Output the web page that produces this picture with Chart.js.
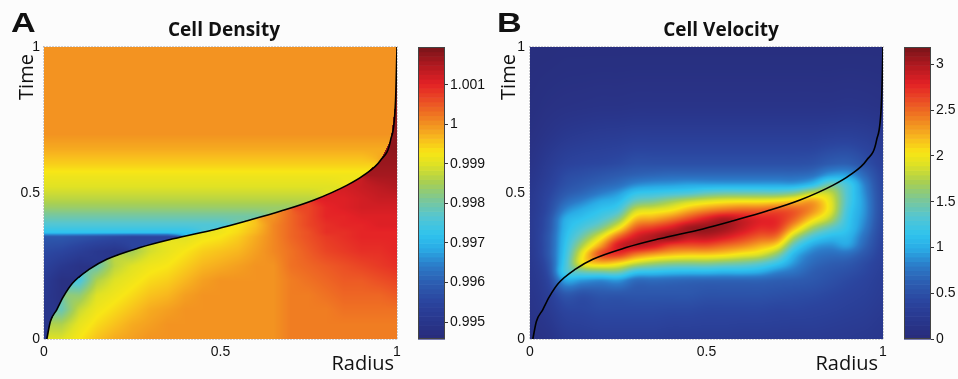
<!DOCTYPE html>
<html>
<head>
<meta charset="utf-8">
<script src="https://cdn.jsdelivr.net/npm/chart.js@4.4.1/dist/chart.umd.min.js"></script>
<style>
  body { margin: 0; background: #fcfcfc; }
  #fig { position: relative; width: 958px; height: 379px; overflow: hidden; }
  canvas { position: absolute; top: 0; }
  .lbl { position: absolute; color: #111; white-space: nowrap; }
  .panel { font: bold 28px "Liberation Sans", Arial, sans-serif; line-height: 28px; transform: scaleX(1.22); transform-origin: left top; }
  .title { font: bold 19px "Open Sans", sans-serif; line-height: 19px; width: 240px; text-align: center; }
  .axt { font: 20px "Open Sans", sans-serif; line-height: 20px; }
  .rot { width: 60px; height: 20px; text-align: center; transform: rotate(-90deg); }
  .rad { width: 80px; text-align: right; }
</style>
</head>
<body>
<div id="fig">
  <canvas id="mapA" width="410" height="379" style="left:0"></canvas>
  <canvas id="barA" width="80" height="379" style="left:410px"></canvas>
  <canvas id="mapB" width="410" height="379" style="left:486px"></canvas>
  <canvas id="barB" width="62" height="379" style="left:896px"></canvas>

  <div class="lbl panel" style="left:11px;top:9px">A</div>
  <div class="lbl title" style="left:104px;top:20px">Cell Density</div>
  <div class="lbl axt rot" style="left:-4px;top:67px">Time</div>
  <div class="lbl axt rad" style="left:314px;top:353px">Radius</div>

  <div class="lbl panel" style="left:497px;top:9px">B</div>
  <div class="lbl title" style="left:601px;top:20px">Cell Velocity</div>
  <div class="lbl axt rot" style="left:478px;top:67px">Time</div>
  <div class="lbl axt rad" style="left:798px;top:353px">Radius</div>
</div>
<script>
// grid nodes (radius columns shared by both maps)
const RADIUS_NODES = [0, 0.05, 0.1, 0.15, 0.2, 0.25, 0.3, 0.35, 0.4, 0.45, 0.5,
                      0.55, 0.6, 0.65, 0.7, 0.75, 0.8, 0.85, 0.9, 0.95, 1];

// cell density, rows bottom (time 0) to top (time 1)
const DENSITY_TIME_NODES = [0, 0.05, 0.1, 0.15, 0.2, 0.25, 0.3, 0.35, 0.365, 0.39, 0.42,
                            0.45, 0.48, 0.52, 0.56, 0.6, 0.65, 0.7, 0.8, 0.9, 1];
const DENSITY = [
  [0.9951,0.9990,0.9993,0.9996,0.9998,0.9999,1.0000,1.0000,1.0000,1.0000,1.0000,1.0000,1.0000,1.0000,1.0002,1.0002,1.0002,1.0002,1.0002,1.0002,1.0002],
  [0.9950,0.9986,0.9991,0.9994,0.9996,0.9998,0.9999,1.0000,1.0000,1.0000,1.0000,1.0000,1.0000,1.0000,1.0002,1.0002,1.0002,1.0002,1.0002,1.0002,1.0002],
  [0.9950,0.9979,0.9988,0.9992,0.9994,0.9996,0.9998,0.9999,1.0000,1.0000,1.0000,1.0000,1.0000,1.0000,1.0002,1.0002,1.0002,1.0003,1.0003,1.0003,1.0003],
  [0.9951,0.9948,0.9983,0.9990,0.9992,0.9994,0.9996,0.9997,0.9999,1.0000,1.0000,1.0000,1.0000,1.0000,1.0002,1.0002,1.0003,1.0004,1.0004,1.0004,1.0005],
  [0.9952,0.9948,0.9975,0.9986,0.9990,0.9992,0.9994,0.9995,0.9997,0.9999,1.0000,1.0000,1.0000,1.0000,1.0002,1.0003,1.0004,1.0005,1.0005,1.0006,1.0007],
  [0.9954,0.9951,0.9949,0.9979,0.9987,0.9990,0.9992,0.9993,0.9995,0.9997,0.9998,0.9999,1.0000,1.0000,1.0003,1.0004,1.0005,1.0006,1.0007,1.0008,1.0009],
  [0.9956,0.9955,0.9953,0.9951,0.9950,0.9985,0.9989,0.9991,0.9993,0.9995,0.9996,0.9997,0.9999,1.0001,1.0003,1.0005,1.0007,1.0008,1.0009,1.0009,1.0010],
  [0.9959,0.9959,0.9958,0.9957,0.9956,0.9955,0.9955,0.9955,0.9990,0.9992,0.9993,0.9995,0.9998,1.0001,1.0004,1.0006,1.0008,1.0009,1.0010,1.0010,1.0010],
  [0.9972,0.9972,0.9972,0.9972,0.9972,0.9972,0.9972,0.9972,0.9972,0.9991,0.9992,0.9994,0.9997,1.0001,1.0004,1.0006,1.0009,1.0009,1.0010,1.0010,1.0010],
  [0.9976,0.9976,0.9976,0.9976,0.9976,0.9976,0.9976,0.9976,0.9976,0.9976,0.9976,0.9993,0.9996,1.0001,1.0004,1.0007,1.0009,1.0010,1.0010,1.0011,1.0011],
  [0.9980,0.9980,0.9980,0.9980,0.9980,0.9980,0.9980,0.9980,0.9980,0.9980,0.9980,0.9980,0.9980,1.0000,1.0004,1.0007,1.0010,1.0010,1.0011,1.0011,1.0011],
  [0.9984,0.9984,0.9984,0.9984,0.9984,0.9984,0.9984,0.9984,0.9984,0.9984,0.9984,0.9984,0.9984,0.9984,0.9984,1.0007,1.0010,1.0011,1.0012,1.0012,1.0012],
  [0.9987,0.9987,0.9987,0.9987,0.9987,0.9987,0.9987,0.9987,0.9987,0.9987,0.9987,0.9987,0.9987,0.9987,0.9987,0.9987,1.0011,1.0011,1.0012,1.0013,1.0013],
  [0.9990,0.9990,0.9990,0.9990,0.9990,0.9990,0.9990,0.9990,0.9990,0.9990,0.9990,0.9990,0.9990,0.9990,0.9990,0.9990,0.9990,1.0012,1.0013,1.0014,1.0015],
  [0.9992,0.9992,0.9992,0.9992,0.9992,0.9992,0.9992,0.9992,0.9992,0.9992,0.9992,0.9992,0.9992,0.9992,0.9992,0.9992,0.9992,0.9992,0.9992,1.0016,1.0016],
  [0.9995,0.9995,0.9995,0.9995,0.9995,0.9995,0.9995,0.9995,0.9995,0.9995,0.9995,0.9995,0.9995,0.9995,0.9995,0.9995,0.9995,0.9995,0.9995,1.0017,1.0017],
  [0.9998,0.9998,0.9998,0.9998,0.9998,0.9998,0.9998,0.9998,0.9998,0.9998,0.9998,0.9998,0.9998,0.9998,0.9998,0.9998,0.9998,0.9998,0.9998,0.9998,1.0018],
  [1.0000,1.0000,1.0000,1.0000,1.0000,1.0000,1.0000,1.0000,1.0000,1.0000,1.0000,1.0000,1.0000,1.0000,1.0000,1.0000,1.0000,1.0000,1.0000,1.0000,1.0018],
  [1.0000,1.0000,1.0000,1.0000,1.0000,1.0000,1.0000,1.0000,1.0000,1.0000,1.0000,1.0000,1.0000,1.0000,1.0000,1.0000,1.0000,1.0000,1.0000,1.0000,1.0018],
  [1.0000,1.0000,1.0000,1.0000,1.0000,1.0000,1.0000,1.0000,1.0000,1.0000,1.0000,1.0000,1.0000,1.0000,1.0000,1.0000,1.0000,1.0000,1.0000,1.0000,1.0018],
  [1.0000,1.0000,1.0000,1.0000,1.0000,1.0000,1.0000,1.0000,1.0000,1.0000,1.0000,1.0000,1.0000,1.0000,1.0000,1.0000,1.0000,1.0000,1.0000,1.0000,1.0000]
];

// cell velocity, rows bottom to top
const VELOCITY_TIME_NODES = [0, 0.05, 0.1, 0.15, 0.2, 0.23, 0.26, 0.29, 0.32, 0.35, 0.38,
                             0.41, 0.44, 0.47, 0.5, 0.53, 0.56, 0.6, 0.7, 0.8, 1];
const VELOCITY = [
  [0.12,0.15,0.25,0.28,0.30,0.30,0.30,0.30,0.28,0.28,0.28,0.28,0.27,0.27,0.26,0.26,0.26,0.25,0.24,0.22,0.20],
  [0.14,0.20,0.32,0.35,0.38,0.38,0.38,0.38,0.36,0.36,0.35,0.35,0.34,0.34,0.33,0.32,0.32,0.30,0.28,0.26,0.22],
  [0.16,0.25,0.40,0.42,0.45,0.45,0.45,0.45,0.44,0.44,0.42,0.42,0.42,0.42,0.40,0.40,0.38,0.36,0.33,0.30,0.25],
  [0.18,0.30,0.55,0.50,0.55,0.55,0.55,0.55,0.55,0.55,0.52,0.52,0.52,0.52,0.50,0.48,0.46,0.42,0.38,0.34,0.28],
  [0.20,0.38,0.95,0.90,0.85,0.90,0.70,0.70,0.68,0.66,0.65,0.65,0.65,0.65,0.62,0.60,0.56,0.50,0.44,0.38,0.30],
  [0.21,0.45,1.25,1.45,1.50,1.50,1.20,1.15,1.10,1.08,1.08,1.05,1.05,1.00,0.85,0.75,0.62,0.55,0.50,0.42,0.32],
  [0.22,0.50,1.25,2.00,2.20,2.10,1.85,1.70,1.62,1.60,1.60,1.55,1.50,1.40,1.20,0.90,0.70,0.62,0.58,0.46,0.34],
  [0.23,0.55,1.20,2.00,2.60,2.70,2.45,2.30,2.20,2.15,2.15,2.10,2.00,1.90,1.60,1.05,0.80,0.72,0.72,0.55,0.36],
  [0.24,0.55,1.15,1.75,2.30,2.85,2.95,2.85,2.65,2.60,2.60,2.50,2.40,2.25,2.05,1.35,0.98,0.88,0.95,0.65,0.38],
  [0.25,0.55,1.10,1.50,1.95,2.50,2.85,3.00,3.10,2.95,2.95,2.85,2.70,2.55,2.45,1.75,1.30,1.10,1.05,0.72,0.40],
  [0.25,0.52,1.05,1.30,1.55,2.00,2.55,2.70,2.85,3.05,3.10,3.05,2.90,2.75,2.70,2.20,1.70,1.40,1.15,0.80,0.42],
  [0.25,0.50,1.00,1.15,1.30,1.60,2.20,2.30,2.45,2.65,2.85,3.00,2.90,2.80,2.75,2.50,2.10,1.75,1.20,0.85,0.44],
  [0.24,0.45,0.85,1.02,1.15,1.30,1.85,1.95,2.05,2.25,2.40,2.50,2.55,2.55,2.60,2.55,2.35,1.95,1.25,0.88,0.45],
  [0.23,0.42,0.70,0.85,1.00,1.10,1.45,1.55,1.70,1.85,1.95,2.02,2.05,2.05,2.10,2.20,2.30,1.95,1.30,0.88,0.45],
  [0.22,0.38,0.58,0.68,0.80,0.92,1.15,1.20,1.25,1.30,1.40,1.45,1.45,1.45,1.45,1.55,1.80,1.80,1.30,0.85,0.44],
  [0.20,0.34,0.50,0.58,0.65,0.72,0.85,0.90,0.92,0.95,0.95,0.95,0.95,0.95,0.95,0.95,1.10,1.45,1.25,0.80,0.42],
  [0.18,0.30,0.45,0.50,0.55,0.60,0.65,0.68,0.70,0.70,0.70,0.70,0.70,0.70,0.70,0.70,0.75,0.95,0.95,0.68,0.40],
  [0.15,0.26,0.36,0.40,0.42,0.45,0.50,0.50,0.50,0.50,0.50,0.50,0.50,0.50,0.50,0.50,0.52,0.60,0.62,0.50,0.35],
  [0.10,0.16,0.22,0.25,0.27,0.28,0.30,0.30,0.30,0.30,0.30,0.30,0.30,0.30,0.30,0.30,0.30,0.32,0.33,0.30,0.25],
  [0.07,0.10,0.12,0.13,0.14,0.14,0.15,0.15,0.15,0.15,0.15,0.15,0.15,0.15,0.15,0.15,0.15,0.15,0.16,0.15,0.13],
  [0.05,0.05,0.06,0.06,0.06,0.06,0.06,0.06,0.06,0.06,0.06,0.06,0.06,0.06,0.06,0.06,0.06,0.06,0.06,0.06,0.06]
];

// black front line (same in both panels)
const FRONT_R = [0.008, 0.018, 0.036, 0.055, 0.08, 0.13, 0.178, 0.272, 0.366, 0.49,
                 0.576, 0.671, 0.765, 0.859, 0.907, 0.954, 0.982, 0.996, 1];
const FRONT_T = [0, 0.06, 0.1, 0.145, 0.19, 0.24, 0.273, 0.313, 0.343, 0.377,
                 0.405, 0.438, 0.476, 0.527, 0.562, 0.613, 0.682, 0.818, 1];

const AXIS_TICKS = [0, 0.5, 1];
const AXIS_TICK_LABELS = ['0', '0.5', '1'];

const DENSITY_RANGE = [0.99457, 1.00196];
const DENSITY_TICKS = [0.995, 0.996, 0.997, 0.998, 0.999, 1, 1.001];
const DENSITY_TICK_LABELS = ['0.995', '0.996', '0.997', '0.998', '0.999', '1', '1.001'];

const VELOCITY_RANGE = [0, 3.19];
const VELOCITY_TICKS = [0, 0.5, 1, 1.5, 2, 2.5, 3];
const VELOCITY_TICK_LABELS = ['0', '0.5', '1', '1.5', '2', '2.5', '3'];

// jet-like colour map, as it looks in print
const JET_STOPS = [
  [0.00, 40, 44, 122], [0.06, 41, 54, 140], [0.125, 43, 68, 158], [0.19, 45, 92, 176],
  [0.25, 44, 122, 200], [0.31, 42, 172, 230], [0.36, 48, 196, 238], [0.42, 85, 198, 210],
  [0.48, 125, 200, 150], [0.54, 170, 208, 80], [0.60, 224, 226, 36], [0.64, 248, 230, 22],
  [0.69, 248, 186, 30], [0.74, 242, 143, 33], [0.81, 236, 84, 37], [0.875, 228, 33, 38],
  [0.94, 175, 25, 32], [1.00, 122, 21, 26]
];
const LEVELS = 64;

function jet(f) {
  f = Math.min(1, Math.max(0, f));
  for (let k = 1; k < JET_STOPS.length; k++) {
    const b = JET_STOPS[k];
    if (f <= b[0]) {
      const a = JET_STOPS[k - 1];
      const u = (f - a[0]) / (b[0] - a[0]);
      return [a[1] + (b[1] - a[1]) * u, a[2] + (b[2] - a[2]) * u, a[3] + (b[3] - a[3]) * u];
    }
  }
  return JET_STOPS[JET_STOPS.length - 1].slice(1);
}

function frontAt(r) {
  if (r <= FRONT_R[0]) return FRONT_T[0];
  for (let k = 1; k < FRONT_R.length; k++) {
    if (r <= FRONT_R[k]) {
      const u = (r - FRONT_R[k - 1]) / (FRONT_R[k] - FRONT_R[k - 1]);
      return FRONT_T[k - 1] + (FRONT_T[k] - FRONT_T[k - 1]) * u;
    }
  }
  return FRONT_T[FRONT_T.length - 1];
}

function cellIndex(nodes, v) {
  for (let k = 0; k < nodes.length - 2; k++) {
    if (v < nodes[k + 1]) return k;
  }
  return nodes.length - 2;
}

// Catmull-Rom weights for a smooth surface through the grid nodes
function crWeights(u) {
  const u2 = u * u, u3 = u2 * u;
  return [
    0.5 * (-u3 + 2 * u2 - u),
    0.5 * (3 * u3 - 5 * u2 + 2),
    0.5 * (-3 * u3 + 4 * u2 + u),
    0.5 * (u3 - u2),
  ];
}

function smoothValue(G, i, fr, j, ft) {
  const nr = G[0].length, nt = G.length;
  const wr = crWeights(fr), wt = crWeights(ft);
  let v = 0;
  for (let b = 0; b < 4; b++) {
    const jj = Math.min(nt - 1, Math.max(0, j - 1 + b));
    let row = 0;
    for (let a = 0; a < 4; a++) {
      const ii = Math.min(nr - 1, Math.max(0, i - 1 + a));
      row += G[jj][ii] * wr[a];
    }
    v += row * wt[b];
  }
  return v;
}

const FONT = "'Liberation Sans', Arial, sans-serif";

// paints the gridded field into the plot area through the x/y scales
const heatmap = {
  id: 'heatmap',
  beforeDatasetsDraw(chart, args, opts) {
    const { ctx, chartArea: a, scales: { x, y } } = chart;
    const w = Math.round(a.right - a.left);
    const h = Math.round(a.bottom - a.top);
    const off = document.createElement('canvas');
    off.width = w;
    off.height = h;
    const octx = off.getContext('2d');
    const img = octx.createImageData(w, h);
    const R = RADIUS_NODES, T = opts.times, G = opts.grid;
    const [lo, hi] = opts.range;
    const side = opts.split ? T.map((t) => R.map((r) => t < frontAt(r))) : null;

    for (let px = 0; px < w; px++) {
      const r = x.getValueForPixel(a.left + px + 0.5);
      const i = cellIndex(R, r);
      const fr = Math.min(1, Math.max(0, (r - R[i]) / (R[i + 1] - R[i])));
      const tc = frontAt(r);
      for (let py = 0; py < h; py++) {
        const t = y.getValueForPixel(a.top + py + 0.5);
        const j = cellIndex(T, t);
        const ft = Math.min(1, Math.max(0, (t - T[j]) / (T[j + 1] - T[j])));
        let v;
        if (side) {
          // bilinear, using only the nodes on the same side of the front
          const corners = [
            [j, i, (1 - fr) * (1 - ft)], [j, i + 1, fr * (1 - ft)],
            [j + 1, i, (1 - fr) * ft], [j + 1, i + 1, fr * ft]
          ];
          const below = t < tc;
          let s = 0, ws = 0;
          corners.forEach(([jj, ii, wt]) => {
            if (side[jj][ii] === below) { s += G[jj][ii] * wt; ws += wt; }
          });
          if (ws < 1e-9) {
            s = 0; ws = 0;
            corners.forEach(([jj, ii, wt]) => { s += G[jj][ii] * wt; ws += wt; });
          }
          v = s / ws;
        } else {
          v = smoothValue(G, i, fr, j, ft);
        }
        const c = jet((v - lo) / (hi - lo));
        const idx = (py * w + px) * 4;
        img.data[idx] = c[0];
        img.data[idx + 1] = c[1];
        img.data[idx + 2] = c[2];
        img.data[idx + 3] = 255;
      }
    }
    octx.putImageData(img, 0, 0);
    ctx.drawImage(off, a.left, a.top);

    ctx.save();
    ctx.strokeStyle = '#a0a0a8';
    ctx.lineWidth = 1;
    ctx.setLineDash([1, 2]);
    ctx.strokeRect(a.left - 0.5, a.top - 0.5, w + 1, h + 1);
    ctx.restore();
  }
};

// colour bar drawn level by level along the y scale
const colorbar = {
  id: 'colorbar',
  beforeDraw(chart, args, opts) {
    const { ctx, chartArea: a, scales: { y } } = chart;
    const [lo, hi] = opts.range;
    for (let k = 0; k < LEVELS; k++) {
      const p0 = y.getPixelForValue(lo + (hi - lo) * k / LEVELS);
      const p1 = y.getPixelForValue(lo + (hi - lo) * (k + 1) / LEVELS);
      const c = jet((k + 0.5) / LEVELS);
      ctx.fillStyle = `rgb(${c[0] | 0},${c[1] | 0},${c[2] | 0})`;
      ctx.fillRect(a.left, p1, a.right - a.left, p0 - p1 + 0.6);
    }
    ctx.strokeStyle = '#444';
    ctx.lineWidth = 1;
    ctx.strokeRect(a.left + 0.5, a.top + 0.5, a.right - a.left - 1, a.bottom - a.top - 1);
  }
};

function makeMap(id, grid, times, range, split, yPad) {
  return new Chart(document.getElementById(id), {
    type: 'scatter',
    data: {
      datasets: [
        {
          data: FRONT_R.map((r, k) => ({ x: r, y: FRONT_T[k] })),
          showLine: true,
          borderColor: '#000',
          borderWidth: 1.6,
          pointRadius: 0,
          cubicInterpolationMode: 'monotone',
        },
      ],
    },
    options: {
      responsive: false,
      animation: false,
      events: [],
      layout: { padding: { left: 0, top: 47, right: 13, bottom: 0 } },
      plugins: {
        legend: { display: false },
        tooltip: { enabled: false },
        heatmap: { grid, times, range, split },
      },
      scales: {
        x: {
          type: 'linear',
          min: 0,
          max: 1,
          afterFit: (s) => { s.height = 40; },
          afterBuildTicks: (s) => { s.ticks = AXIS_TICKS.map((v) => ({ value: v })); },
          grid: { display: false, drawTicks: false },
          border: { display: false },
          ticks: {
            padding: 5,
            maxRotation: 0,
            autoSkip: false,
            color: '#111',
            font: { family: FONT, size: 14 },
            callback: (v, i) => AXIS_TICK_LABELS[i],
          },
        },
        y: {
          type: 'linear',
          min: 0,
          max: 1,
          afterFit: (s) => { s.width = 44; },
          afterBuildTicks: (s) => { s.ticks = AXIS_TICKS.map((v) => ({ value: v })); },
          grid: { display: false, drawTicks: false },
          border: { display: false },
          ticks: {
            padding: yPad,
            autoSkip: false,
            color: '#111',
            font: { family: FONT, size: 14 },
            callback: (v, i) => AXIS_TICK_LABELS[i],
          },
        },
      },
    },
    plugins: [heatmap],
  });
}

function makeBar(id, range, ticks, labels, width) {
  return new Chart(document.getElementById(id), {
    type: 'scatter',
    data: { datasets: [] },
    options: {
      responsive: false,
      animation: false,
      events: [],
      layout: { padding: { left: 8, top: 47, right: 0, bottom: 40 } },
      plugins: {
        legend: { display: false },
        tooltip: { enabled: false },
        colorbar: { range },
      },
      scales: {
        x: { display: false, min: 0, max: 1 },
        y: {
          position: 'right',
          min: range[0],
          max: range[1],
          afterFit: (s) => { s.width = width; },
          afterBuildTicks: (s) => { s.ticks = ticks.map((v) => ({ value: v })); },
          grid: {
            display: true,
            drawOnChartArea: false,
            drawTicks: true,
            tickLength: 3,
            color: '#333',
          },
          border: { display: false },
          ticks: {
            padding: 2,
            autoSkip: false,
            color: '#111',
            font: { family: FONT, size: 14 },
            callback: (v, i) => labels[i],
          },
        },
      },
    },
    plugins: [colorbar],
  });
}

makeMap('mapA', DENSITY, DENSITY_TIME_NODES, DENSITY_RANGE, true, 4);
makeBar('barA', DENSITY_RANGE, DENSITY_TICKS, DENSITY_TICK_LABELS, 45);
makeMap('mapB', VELOCITY, VELOCITY_TIME_NODES, VELOCITY_RANGE, false, 5);
makeBar('barB', VELOCITY_RANGE, VELOCITY_TICKS, VELOCITY_TICK_LABELS, 27);
</script>
</body>
</html>
